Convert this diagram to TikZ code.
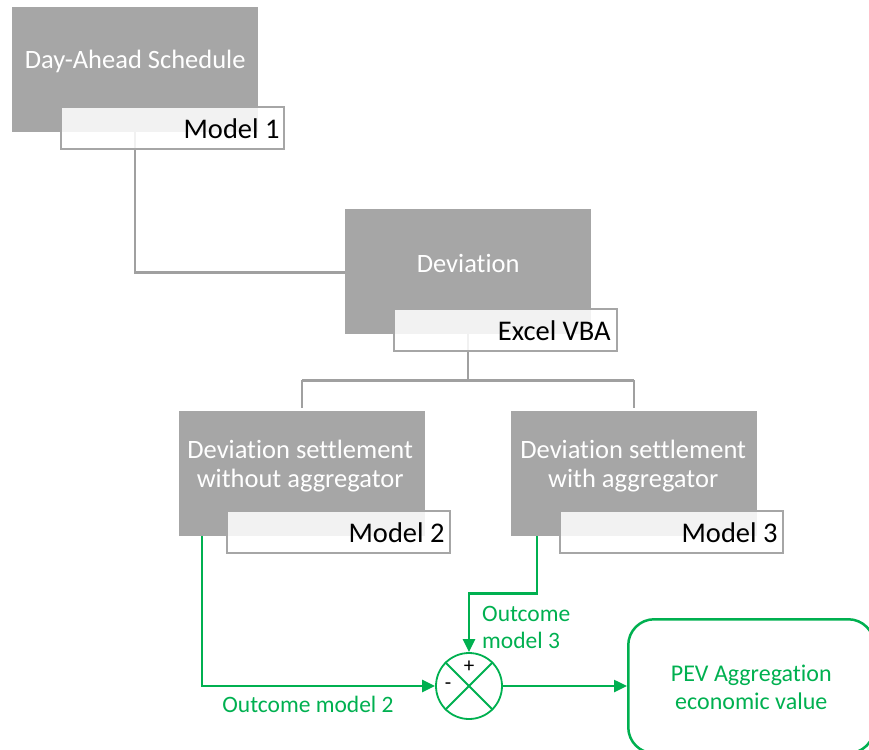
\documentclass[tikz,border=0pt]{standalone}
\usepackage{fontspec}
\setmainfont{Carlito}[Ligatures=NoCommon]
\usetikzlibrary{arrows.meta,calc,positioning}
\definecolor{boxgray}{HTML}{A6A6A6}
\definecolor{linegray}{HTML}{A0A0A0}
\definecolor{edgegray}{HTML}{A6A6A6}
\definecolor{mygreen}{HTML}{00B050}
\tikzset{
  graybox/.style={rectangle, fill=boxgray, inner sep=0pt, minimum width=246pt, minimum height=125pt, anchor=north west},
  graytext/.style={text=white, font=\fontsize{26.5}{29}\selectfont, align=center, inner sep=0pt},
  labelbox/.style={rectangle, draw=edgegray, line width=1.8pt, fill=white, fill opacity=0.86, text opacity=1, text=black,
     minimum width=223pt, minimum height=42pt, anchor=north west, inner sep=0pt},
  labeltext/.style={text=black, font=\fontsize{28.5}{30}\selectfont, anchor=east, inner sep=0pt},
  treeline/.style={draw=linegray, line width=2.2pt},
  greenline/.style={draw=mygreen, line width=2.5pt},
  greenarrow/.style={greenline, -{Triangle[length=13pt,width=12pt]}},
  greentext/.style={text=mygreen, font=\fontsize{23.5}{27}\selectfont, inner sep=0pt},
}
\begin{document}
\begin{tikzpicture}[x=1pt,y=-1pt]
\useasboundingbox (0,0) rectangle (869,749);
\begin{scope}
\clip (0,0) rectangle (869,749);
% gray boxes
\node[graybox] (g1) at (12,7) {};
\node[graybox] (g2) at (345,209) {};
\node[graybox] (g3) at (179,411) {};
\node[graybox] (g4) at (511,411) {};
% gray connectors
\coordinate (k1) at ($(g1.south)+(0,140)$);
\draw[treeline] (g1.south) -- (k1) -- (k1 -| g2.west);
\coordinate (k2) at ($(g2.south)+(0,46)$);
\draw[treeline] (g2.south) -- (k2);
\draw[treeline] (k2 -| g3.north) -- (k2 -| g4.north);
\draw[treeline] (k2 -| g3.north) -- ($(g3.north)+(0,-3)$);
\draw[treeline] (k2 -| g4.north) -- ($(g4.north)+(0,-3)$);
% texts in gray boxes
\node[graytext] (t1) at ($(g1.center)+(0,-8)$) {Day-Ahead Schedule};
\node[graytext] (t2) at ($(g2.center)+(0,-8)$) {Deviation};
\node[graytext] (t3) at ($(g3.center)+(-2,-8)$) {Deviation settlement\\without aggregator};
\node[graytext] (t4) at ($(g4.center)+(-1,-8)$) {Deviation settlement\\with aggregator};
% label boxes
\node[labelbox] (m1) at (60,106) {};
\node[labelbox] (m2) at (393,308) {};
\node[labelbox] (m3) at (226,510) {};
\node[labelbox] (m4) at (559,510) {};
\node[labeltext] (l1) at ($(m1.east)+(-5,1)$) {Model 1};
\node[labeltext] (l2) at ($(m2.east)+(-7,1)$) {Excel VBA};
\node[labeltext] (l3) at ($(m3.east)+(-6,1)$) {Model 2};
\node[labeltext] (l4) at ($(m4.east)+(-6,1)$) {Model 3};
% summing junction
\node[circle, draw=mygreen, line width=1.8pt, minimum size=66pt, inner sep=0pt] (c) at (469,686) {};
\draw[mygreen, line width=1.8pt] (c.north west) -- (c.south east);
\draw[mygreen, line width=1.8pt] (c.north east) -- (c.south west);
\node[font=\fontsize{21}{21}\selectfont, inner sep=0pt] (plus) at ($(c.center)+(0,-19)$) {+};
\node[font=\fontsize{21}{21}\selectfont, inner sep=0pt] (minus) at ($(c.center)+(-21,0)$) {-};
% PEV box
\node[rectangle, rounded corners=26pt, draw=mygreen, line width=2.5pt, minimum width=246pt, minimum height=134pt, anchor=north west, inner sep=0pt] (pev) at (627,618) {};
\node[greentext, align=center, font=\fontsize{24}{28}\selectfont] (pevt) at ($(pev.center)+(0,1)$) {PEV Aggregation\\economic value};
% green connectors
\coordinate (s2) at ($(g3.south west)+(23,0)$);
\draw[greenarrow] (s2) -- (s2 |- c.west) -- (c.west);
\coordinate (s3) at ($(g4.south west)+(26,0)$);
\coordinate (b3) at ($(s3)+(0,57)$);
\draw[greenarrow] (s3) -- (b3) -- (b3 -| c.north) -- (c.north);
\draw[greenarrow] (c.east) -- (pev.west |- c.east);
% green labels
\node[greentext] (o2) at (308,704) {Outcome model 2};
\node[greentext, align=left, anchor=west] (o3) at (482,627) {Outcome\\model 3};
\end{scope}
\end{tikzpicture}
\end{document}
